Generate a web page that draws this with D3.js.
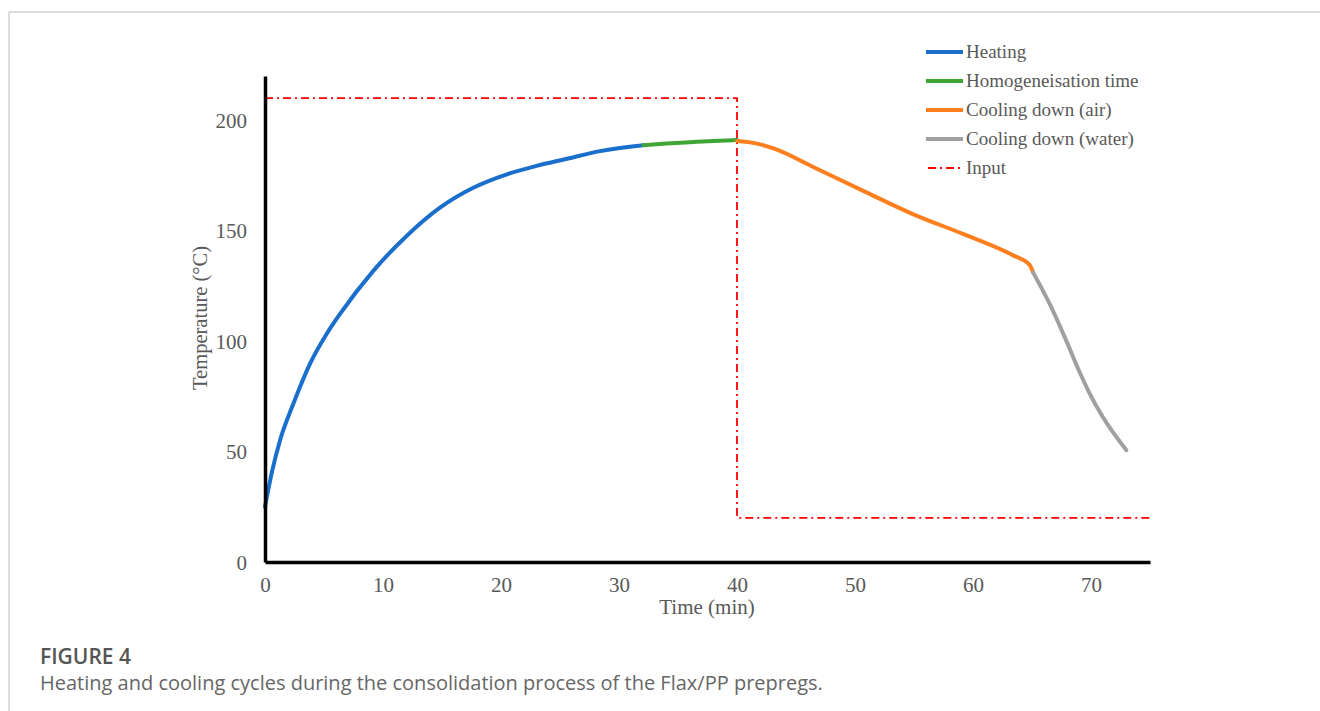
<!DOCTYPE html>
<html>
<head>
<meta charset="utf-8">
<script src="https://cdn.jsdelivr.net/npm/d3@7"></script>
<style>
  body { margin: 0; background: #fff; }
  #fig { position: relative; width: 1320px; height: 711px; overflow: hidden; }
</style>
</head>
<body>
<div id="fig"></div>
<script>
// temperature readings (min, °C)
var heatingTime = [0, 0.6, 1.27, 2.4, 3.81, 5.22, 6.36, 9.18, 12.0, 14.83, 17.65, 20.5, 23.0, 25.5, 28.4, 32.06];
var heatingTemp = [25, 41, 55, 71.6, 89.7, 103.2, 112.3, 131.8, 147.6, 160.4, 169.4, 175.5, 179.3, 182.4, 186, 188.7];

var homogTime = [32.06, 34, 36, 38, 40];
var homogTemp = [188.7, 189.4, 190, 190.6, 191];

var airTime = [40, 41.5, 43.1, 46.5, 50.7, 54.9, 59.2, 63.4, 64.8, 65.1];
var airTemp = [190.6, 189.6, 187.2, 178.7, 168, 157.5, 148.4, 138.8, 134.5, 131];

var waterTime = [65.1, 66.5, 67.9, 69.1, 69.9, 71.0, 73.0];
var waterTemp = [131, 116.8, 100.2, 85.2, 76.1, 65.6, 50.6];

var inputTime = [0, 40, 40, 75];
var inputTemp = [210, 210, 20, 20];

var xTicks = [0, 10, 20, 30, 40, 50, 60, 70];
var yTicks = [0, 50, 100, 150, 200];

var seriesNames = ["Heating", "Homogeneisation time", "Cooling down (air)", "Cooling down (water)", "Input"];
var seriesColors = ["#1a6fcc", "#3fa535", "#ff7f1f", "#a0a0a0", "#ff0000"];

var svg = d3.select("#fig").append("svg")
    .attr("width", 1320)
    .attr("height", 711);

// page frame
svg.append("line").attr("x1", 9).attr("x2", 1320).attr("y1", 12).attr("y2", 12)
    .attr("stroke", "#d0d0d0").attr("stroke-width", 1.5);
svg.append("line").attr("x1", 9).attr("x2", 9).attr("y1", 12).attr("y2", 711)
    .attr("stroke", "#d0d0d0").attr("stroke-width", 1.5);

var margin = {left: 265, top: 76, right: 170, bottom: 149};
var width = 1320 - margin.left - margin.right,
    height = 711 - margin.top - margin.bottom;

var g = svg.append("g").attr("transform", "translate(" + margin.left + "," + margin.top + ")");

var x = d3.scaleLinear().domain([0, 75]).range([0, width]);
var y = d3.scaleLinear().domain([0, 220]).range([height, 0]);

var serif = "'Liberation Serif', 'Times New Roman', serif";
var labelColor = "#595959";

// input set point
var line = d3.line().x(function(d) { return x(d[0]); }).y(function(d) { return y(d[1]); });
g.append("path")
    .datum(d3.zip(inputTime, inputTemp))
    .attr("d", line)
    .attr("fill", "none")
    .attr("stroke", seriesColors[4])
    .attr("stroke-width", 1.8)
    .attr("stroke-dasharray", "8,4,2,4");

// measured segments
var smooth = d3.line().curve(d3.curveMonotoneX)
    .x(function(d) { return x(d[0]); }).y(function(d) { return y(d[1]); });
var segments = [
    d3.zip(heatingTime, heatingTemp),
    d3.zip(homogTime, homogTemp),
    d3.zip(airTime, airTemp),
    d3.zip(waterTime, waterTemp)
];
g.selectAll(".seg").data(segments).enter().append("path")
    .attr("class", "seg")
    .attr("d", smooth)
    .attr("fill", "none")
    .attr("stroke", function(d, i) { return seriesColors[i]; })
    .attr("stroke-width", 4)
    .attr("stroke-linecap", "round");

// axes
var xAxis = g.append("g")
    .attr("transform", "translate(0," + height + ")")
    .call(d3.axisBottom(x).tickValues(xTicks).tickSize(0).tickPadding(15));
var yAxis = g.append("g")
    .call(d3.axisLeft(y).tickValues(yTicks).tickSize(0).tickPadding(18));

[xAxis, yAxis].forEach(function(a) {
    a.select(".domain").attr("stroke", "#000").attr("stroke-width", 3.5);
    a.selectAll("text")
        .attr("fill", labelColor)
        .style("font-family", serif)
        .style("font-size", "21px");
});
yAxis.selectAll("text").attr("dy", "0.35em");

svg.append("text")
    .attr("x", 707).attr("y", 614)
    .attr("text-anchor", "middle")
    .attr("fill", labelColor)
    .style("font-family", serif)
    .style("font-size", "21px")
    .text("Time (min)");

svg.append("text")
    .attr("transform", "translate(207,318) rotate(-90)")
    .attr("text-anchor", "middle")
    .attr("fill", labelColor)
    .style("font-family", serif)
    .style("font-size", "20.5px")
    .text("Temperature (°C)");

// legend
var legend = svg.append("g").attr("transform", "translate(926,52)");
var item = legend.selectAll(".item").data(seriesNames).enter().append("g")
    .attr("class", "item")
    .attr("transform", function(d, i) { return "translate(0," + (i * 29) + ")"; });
item.append("line")
    .attr("x1", function(d, i) { return i < 4 ? 0 : 2; })
    .attr("x2", 37)
    .attr("stroke", function(d, i) { return seriesColors[i]; })
    .attr("stroke-width", function(d, i) { return i < 4 ? 4 : 1.8; })
    .attr("stroke-dasharray", function(d, i) { return i < 4 ? null : "8,4,2,4"; });
item.append("text")
    .attr("x", 40)
    .attr("dy", "0.33em")
    .attr("fill", labelColor)
    .style("font-family", serif)
    .style("font-size", "19px")
    .text(function(d) { return d; });

// caption
svg.append("text")
    .attr("x", 40).attr("y", 664)
    .attr("fill", "#555")
    .style("font-family", "'Open Sans', sans-serif")
    .style("font-size", "21px")
    .style("font-weight", 600)
    .text("FIGURE 4");
svg.append("text")
    .attr("x", 40).attr("y", 690)
    .attr("fill", "#666")
    .style("font-family", "'Open Sans', sans-serif")
    .style("font-size", "20px")
    .text("Heating and cooling cycles during the consolidation process of the Flax/PP prepregs.");
</script>
</body>
</html>
